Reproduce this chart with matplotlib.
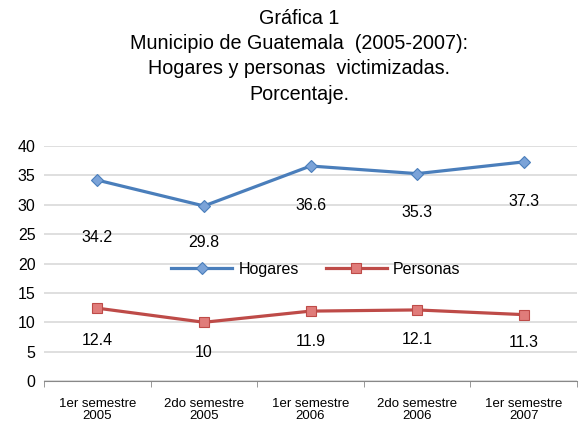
import matplotlib.pyplot as plt
import numpy as np

plt.rcParams['font.family'] = ['Liberation Sans', 'DejaVu Sans']

categorias = ["1er semestre\n2005", "2do semestre\n2005", "1er semestre\n2006",
              "2do semestre\n2006", "1er semestre\n2007"]
hogares = [34.2, 29.8, 36.6, 35.3, 37.3]
personas = [12.4, 10, 11.9, 12.1, 11.3]
etiquetas_hogares = ["34.2", "29.8", "36.6", "35.3", "37.3"]
etiquetas_personas = ["12.4", "10", "11.9", "12.1", "11.3"]

azul = "#4A7EBB"
rojo = "#BE4B48"

fig = plt.figure(figsize=(5.87, 4.26), dpi=100)
ax = fig.add_axes([0.075, 0.1056, 0.908, 0.5516])

x = np.arange(len(categorias))
ax.plot(x, hogares, color=azul, lw=2.3, marker="D", ms=6,
        mfc="#7BA3D8", mec=azul, mew=0.8, label="Hogares", zorder=3)
ax.plot(x, personas, color=rojo, lw=2.3, marker="s", ms=7.5,
        mfc="#E07C7A", mec=rojo, mew=0.8, label="Personas", zorder=3)

# etiquetas debajo de cada punto
off_h = [-57, -37, -39, -39, -40]
for i, v in enumerate(hogares):
    ax.annotate(etiquetas_hogares[i], (x[i], v), xytext=(0, off_h[i]),
                textcoords="offset pixels", ha="center", va="center", fontsize=11.5)
off_p = [-32, -30, -30, -30, -28]
for i, v in enumerate(personas):
    ax.annotate(etiquetas_personas[i], (x[i], v), xytext=(0, off_p[i]),
                textcoords="offset pixels", ha="center", va="center", fontsize=11.5)

ax.set_ylim(0, 40)
ax.set_xlim(-0.5, len(categorias) - 0.5)
ax.set_yticks(range(0, 41, 5))
ax.set_xticks(x)
ax.set_xticklabels(categorias, fontsize=9.5, linespacing=1.0)
ax.set_xticks(np.arange(-0.5, len(categorias), 0.5), minor=True)
ax.tick_params(axis="x", which="major", length=0, pad=12)
ax.tick_params(axis="x", which="minor", length=4, color="#888888")
ax.tick_params(axis="y", length=0, labelsize=11.5, pad=6)
ax.grid(axis="y", color="#D9D9D9", lw=1.2)
ax.set_axisbelow(True)
for s in ["top", "right", "left"]:
    ax.spines[s].set_visible(False)
ax.spines["bottom"].set_color("#888888")

ax.legend(loc="center", bbox_to_anchor=(0.51, 0.475), ncol=2, frameon=False,
          fontsize=11.5, handlelength=3.8, columnspacing=1.7, handletextpad=0.4)

fig.text(0.51, 0.98, "Gráfica 1\nMunicipio de Guatemala  (2005-2007):\nHogares y personas  victimizadas.\nPorcentaje.",
         ha="center", va="top", fontsize=14.2, linespacing=1.43)

fig.savefig("out.png", dpi=100)
